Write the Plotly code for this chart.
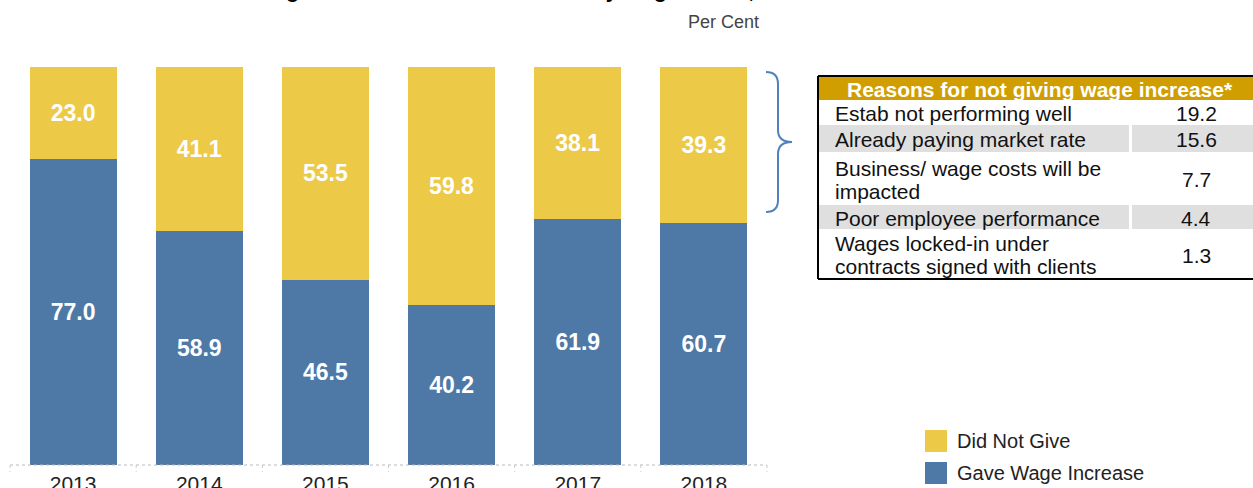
import plotly.graph_objects as go

# ---- data ----
years = ["2013", "2014", "2015", "2016", "2017", "2018"]
gave_increase = [77.0, 58.9, 46.5, 40.2, 61.9, 60.7]
did_not_give = [23.0, 41.1, 53.5, 59.8, 38.1, 39.3]

reasons = [
    "Estab not performing well",
    "Already paying market rate",
    "Business/ wage costs will be\nimpacted",
    "Poor employee performance",
    "Wages locked-in under\ncontracts signed with clients",
]
reason_values = [19.2, 15.6, 7.7, 4.4, 1.3]

table_header = "Reasons for not giving wage increase*"
legend_labels = ["Did Not Give", "Gave Wage Increase"]
title_text = "Share of Firms that Gave Wage Increases or Did Not Do So by Wage Status, 2013 - 2018"

# ---- styling ----
BLUE = "#4E79A7"
YELLOW = "#EDC948"
GOLD = "#D09E00"
BAND = "#DFDFDF"
BRACE = "#4F81BD"
FONT = "Arial, Liberation Sans, sans-serif"

W, H = 1253, 488
L, R, T, B = 10, 767, 67, 465
PW, PH = R - L, B - T


def px(x):
    return (x - L) / PW


def py(y):
    return (B - y) / PH


fig = go.Figure()
fig.add_trace(go.Bar(
    x=years, y=gave_increase, name=legend_labels[1], marker_color=BLUE,
    marker_line_width=0, width=0.69,
    texttemplate="%{y:.1f}", textposition="inside", insidetextanchor="middle",
    textfont=dict(family=FONT, size=23, color="white", weight="bold"),
))
fig.add_trace(go.Bar(
    x=years, y=did_not_give, name=legend_labels[0], marker_color=YELLOW,
    marker_line_width=0, width=0.69,
    texttemplate="%{y:.1f}", textposition="inside", insidetextanchor="middle",
    textfont=dict(family=FONT, size=23, color="white", weight="bold"),
))

shapes = []
ann = []

# dotted baseline with category separators
shapes.append(dict(type="line", xref="paper", yref="paper", x0=0, x1=1, y0=0, y1=0,
                   line=dict(color="#BBBBBB", width=1, dash="dot")))
for i in range(len(years) + 1):
    xp = i / len(years)
    shapes.append(dict(type="line", xref="paper", yref="paper", x0=xp, x1=xp,
                       y0=0, y1=py(472), line=dict(color="#CCCCCC", width=1, dash="dot")))

# curly brace pointing at the table
pts = [(766, 72), (778, 72), (778, 84), (778, 130), (778, 142), (792, 142),
       (778, 142), (778, 154), (778, 200), (778, 212), (766, 212)]
P = [(px(a), py(b)) for a, b in pts]
path = (f"M {P[0][0]},{P[0][1]} Q {P[1][0]},{P[1][1]} {P[2][0]},{P[2][1]} "
        f"L {P[3][0]},{P[3][1]} Q {P[4][0]},{P[4][1]} {P[5][0]},{P[5][1]} "
        f"Q {P[6][0]},{P[6][1]} {P[7][0]},{P[7][1]} L {P[8][0]},{P[8][1]} "
        f"Q {P[9][0]},{P[9][1]} {P[10][0]},{P[10][1]}")
shapes.append(dict(type="path", xref="paper", yref="paper", path=path,
                   line=dict(color=BRACE, width=2)))

# ---- reasons table ----
tx0, tx1, tsplit = 818, 1260, 1129
head_top, head_bot = 76, 100
row_edges = [100, 125, 152, 205, 229, 279]
shapes.append(dict(type="rect", xref="paper", yref="paper", x0=px(tx0), x1=px(tx1),
                   y0=py(head_bot), y1=py(head_top), fillcolor=GOLD, line_width=0, layer="below"))
for i in range(len(reasons)):
    y_top, y_bot = row_edges[i], row_edges[i + 1]
    if i % 2 == 1:
        shapes.append(dict(type="rect", xref="paper", yref="paper", x0=px(tx0), x1=px(tsplit),
                           y0=py(y_bot), y1=py(y_top), fillcolor=BAND, line_width=0, layer="below"))
        shapes.append(dict(type="rect", xref="paper", yref="paper", x0=px(tsplit + 3), x1=px(tx1),
                           y0=py(y_bot), y1=py(y_top), fillcolor=BAND, line_width=0, layer="below"))
    lines = reasons[i].split("\n")
    n = len(lines)
    mid = (y_top + y_bot) / 2
    for k, line in enumerate(lines):
        yc = mid + (k - (n - 1) / 2) * 23
        ann.append(dict(xref="paper", yref="paper", x=px(833), y=py(yc + 1), text=line,
                        showarrow=False, xanchor="left", yanchor="middle",
                        font=dict(family=FONT, size=21, color="#111")))
    ann.append(dict(xref="paper", yref="paper", x=px(1196), y=py(mid + 1),
                    text=f"{reason_values[i]:.1f}", showarrow=False, xanchor="center",
                    yanchor="middle", font=dict(family=FONT, size=21, color="#111")))
ann.append(dict(xref="paper", yref="paper", x=px(1040), y=py((head_top + head_bot) / 2 + 1),
                text=f"<b>{table_header}</b>", showarrow=False, xanchor="center", yanchor="middle",
                font=dict(family=FONT, size=21, color="white")))
# table frame
for (x0, y0, x1, y1) in [(tx0, head_top, tx1, head_top), (tx0, 279, tx1, 279), (tx0, head_top, tx0, 279)]:
    shapes.append(dict(type="line", xref="paper", yref="paper", x0=px(x0), x1=px(x1),
                       y0=py(y0), y1=py(y1), line=dict(color="black", width=2)))

# ---- legend ----
for (label, color, yc) in [(legend_labels[0], YELLOW, 441), (legend_labels[1], BLUE, 473)]:
    shapes.append(dict(type="rect", xref="paper", yref="paper", x0=px(925), x1=px(947),
                       y0=py(yc + 11), y1=py(yc - 11), fillcolor=color, line_width=0))
    ann.append(dict(xref="paper", yref="paper", x=px(955), y=py(yc), text=label,
                    showarrow=False, xanchor="left", yanchor="middle",
                    font=dict(family=FONT, size=20, color="#222")))

# unit label and title (title sits mostly above the top edge)
ann.append(dict(xref="paper", yref="paper", x=px(761), y=py(22), text="Per Cent",
                showarrow=False, xanchor="right", yanchor="middle",
                font=dict(family=FONT, size=18, color="#444")))
ann.append(dict(xref="paper", yref="paper", x=px(-1), y=py(-10), text=f"<b>{title_text}</b>",
                showarrow=False, xanchor="left", yanchor="middle",
                font=dict(family=FONT, size=21, color="black")))

fig.update_layout(
    barmode="stack", width=W, height=H, autosize=False,
    margin=dict(l=L, r=W - R, t=T, b=H - B, pad=0, autoexpand=False),
    plot_bgcolor="white", paper_bgcolor="white", showlegend=False,
    shapes=shapes, annotations=ann, bargap=0.31,
    font=dict(family=FONT),
)
fig.update_xaxes(type="category", range=[-0.5, 5.5], showgrid=False, showline=False,
                 ticks="", tickfont=dict(family=FONT, size=21, color="#222"),
                 ticklabelstandoff=4, zeroline=False, automargin=False)
fig.update_yaxes(range=[0, 100], visible=False, showgrid=False, zeroline=False,
                 automargin=False)

fig.write_html("out.html")
